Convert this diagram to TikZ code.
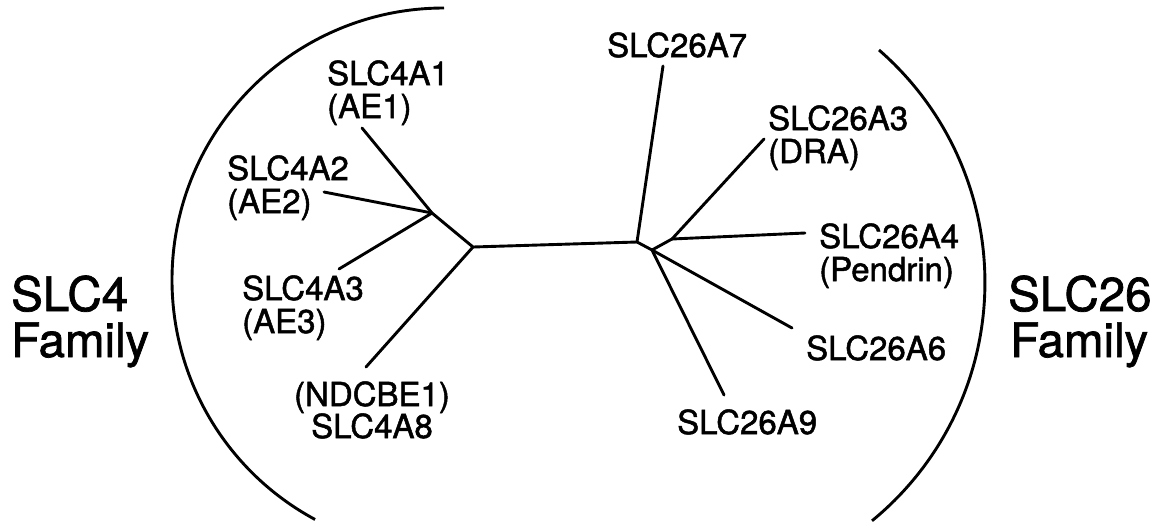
\documentclass[tikz,border=0pt]{standalone}
\usepackage{fontspec}
\setmainfont{TeX Gyre Heros}[FakeBold=1.5]
\begin{document}
\begin{tikzpicture}[x=1pt,y=-1pt,
  lbl/.style={inner sep=0pt,font=\fontsize{33}{34}\selectfont},
  big/.style={inner sep=0pt,font=\fontsize{47.5}{48}\selectfont},
  branch/.style={line width=2.9pt,line cap=round,line join=round},
  bracket/.style={line width=2.9pt,line cap=butt}]
\useasboundingbox (0,0) rectangle (1168,523);
% internal nodes
\coordinate (A) at (432,213);
\coordinate (B) at (473,247);
\coordinate (C) at (637,242);
\coordinate (D) at (652,250);
\coordinate (E) at (672,239);
% leaf ends
\coordinate (l1) at (362,128);
\coordinate (l2) at (324,192);
\coordinate (l3) at (339,269);
\coordinate (l8) at (366,367);
\coordinate (r7) at (663,66);
\coordinate (r3) at (764,139);
\coordinate (r4) at (805,233);
\coordinate (r6) at (792,328);
\coordinate (r9) at (724,395);
% tree
\draw[branch] (l1) -- (A) -- (B) -- (C) -- (D) -- (E);
\draw[branch] (l2) -- (A);
\draw[branch] (l3) -- (A);
\draw[branch] (l8) -- (B);
\draw[branch] (r7) -- (C);
\draw[branch] (r3) -- (E);
\draw[branch] (r4) -- (E);
\draw[branch] (r6) -- (D);
\draw[branch] (r9) -- (D);
% brackets
\coordinate (lt) at (444,8);
\coordinate (rt) at (879,50);
\draw[bracket] (lt) arc[start angle=90,end angle=241.7,radius=272pt];
\draw[bracket] (rt) arc[start angle=49,end angle=-50.7,radius=308pt];
% labels
\node[lbl,anchor=base west] (n1a) at (327,85) {SLC4A1};
\node[lbl,anchor=base west] (n1b) at (327,118) {(AE1)};
\node[lbl,anchor=base west] (n2a) at (227,180) {SLC4A2};
\node[lbl,anchor=base west] (n2b) at (227,213) {(AE2)};
\node[lbl,anchor=base west] (n3a) at (242,300) {SLC4A3};
\node[lbl,anchor=base west] (n3b) at (242,333) {(AE3)};
\node[lbl,anchor=base] (n8a) at (372,406) {(NDCBE1)};
\node[lbl,anchor=base] (n8b) at (372,438) {SLC4A8};
\node[lbl,anchor=base west] (m7) at (607,57) {SLC26A7};
\node[lbl,anchor=base west] (m3a) at (768,130) {SLC26A3};
\node[lbl,anchor=base west] (m3b) at (768,163) {(DRA)};
\node[lbl,anchor=base west] (m4a) at (819,248) {SLC26A4};
\node[lbl,anchor=base west] (m4b) at (819,281) {(Pendrin)};
\node[lbl,anchor=base west] (m6) at (806,360) {SLC26A6};
\node[lbl,anchor=base west] (m9) at (677,434) {SLC26A9};
\node[big,anchor=base west] (f4a) at (11,311) {SLC4};
\node[big,anchor=base west] (f4b) at (11,357) {Family};
\node[big,anchor=base west] (f26a) at (1008,311) {SLC26};
\node[big,anchor=base west] (f26b) at (1010,357) {Family};
\end{tikzpicture}
\end{document}
